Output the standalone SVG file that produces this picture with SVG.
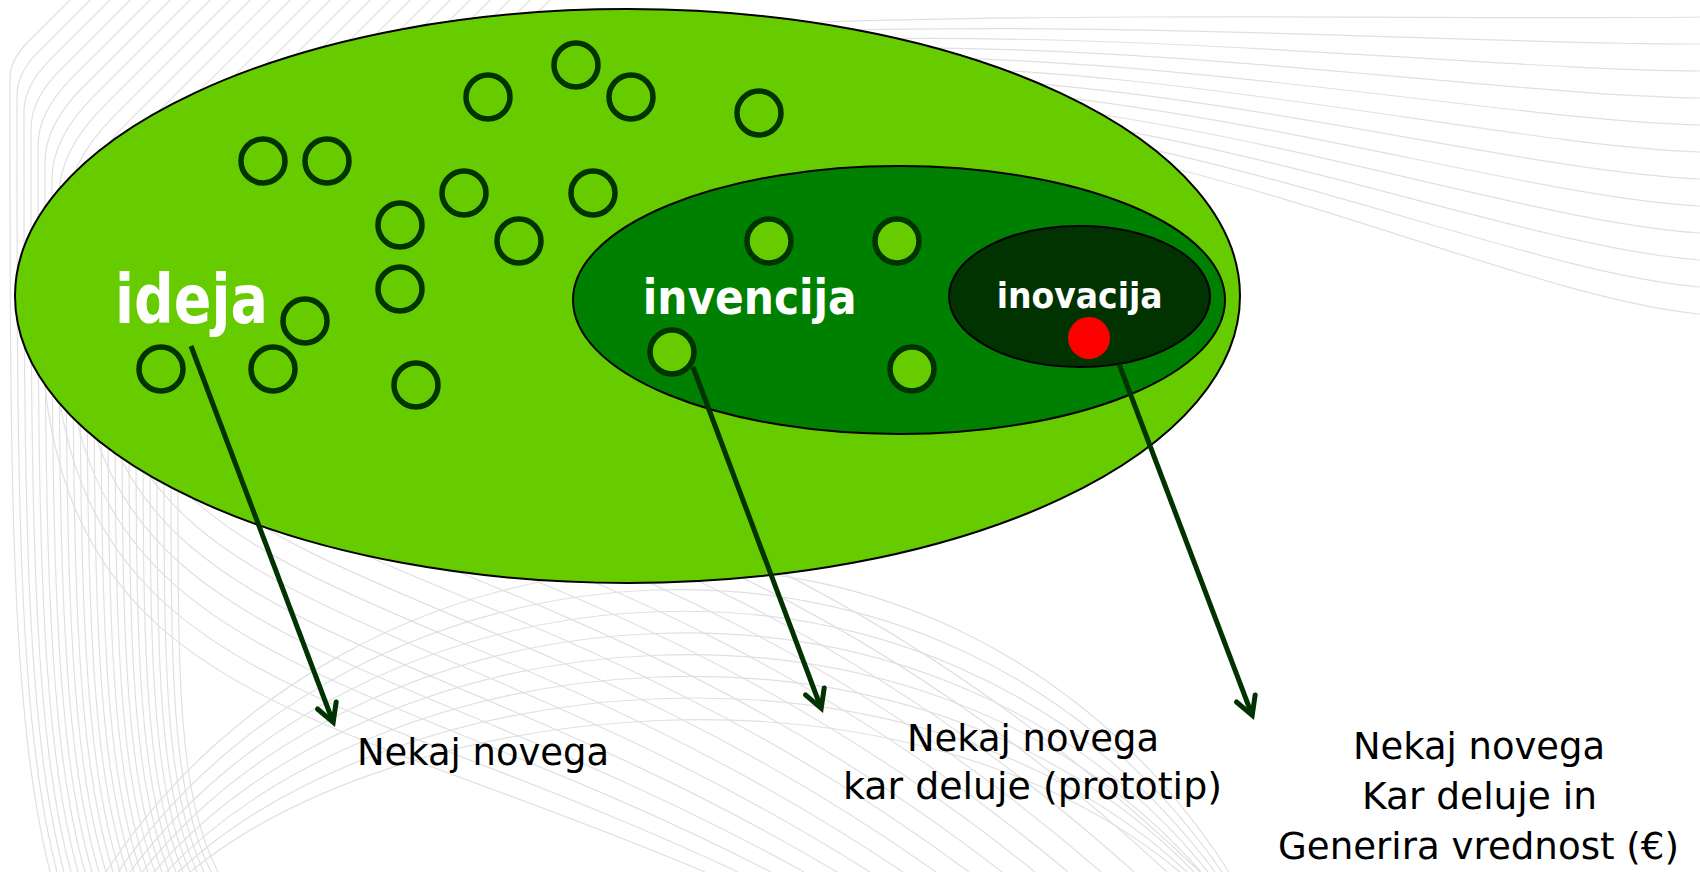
<svg xmlns="http://www.w3.org/2000/svg" width="1700" height="872" viewBox="0 0 1700 872">
<style>
.bg path{fill:none;stroke:#e0e0e0;stroke-width:1.2}
.shell{stroke:#000;stroke-width:2}
.dot{fill:#66CC00;stroke:#003300;stroke-width:5.5}
.conn line{stroke:#003300;stroke-width:5;marker-end:url(#arr)}
.lbl{font-family:"DejaVu Sans",Verdana,sans-serif;font-size:38px;fill:#000}
.big{font-family:"DejaVu Sans",Verdana,sans-serif;font-weight:bold;fill:#fff}
</style>
<defs>
<marker id="arr" markerUnits="userSpaceOnUse" markerWidth="30" markerHeight="30" refX="0" refY="0" orient="auto" overflow="visible">
<path d="M-18,-10 L0,0 L-18,10" fill="none" stroke="#003300" stroke-width="5" stroke-linejoin="miter" stroke-linecap="round"/>
</marker>
</defs>
<rect width="1700" height="872" fill="#fff"/>
<g id="background" class="bg">
<path d="M70,0 L28,42 Q10,60 10,78 C10,475 10,713 50,872"/>
<path d="M90,0 L38.9,51.1 Q17,73 17,94.9 C17,483.5 17,716.6 57,872"/>
<path d="M110,0 L49.8,60.2 Q24,86 24,111.8 C24,491.9 24,720 64,872"/>
<path d="M130,0 L60.7,69.3 Q31,99 31,128.7 C31,500.4 31,723.3 71,872"/>
<path d="M150,0 L71.6,78.4 Q38,112 38,145.6 C38,508.8 38,726.7 78,872"/>
<path d="M170,0 L82.5,87.5 Q45,125 45,162.5 C45,517.3 45,730.1 85,872"/>
<path d="M190,0 L93.4,96.6 Q52,138 52,179.4 C52,525.7 52,733.5 92,872"/>
<path d="M210,0 L104.3,105.7 Q59,151 59,196.3 C59,534.2 59,736.9 99,872"/>
<path d="M230,0 L115.2,114.8 Q66,164 66,213.2 C66,542.6 66,740.2 106,872"/>
<path d="M250,0 L126.1,123.9 Q73,177 73,230.1 C73,551.1 73,743.6 113,872"/>
<path d="M270,0 L137,133 Q80,190 80,247 C80,559.5 80,747 120,872"/>
<path d="M290,0 L147.9,142.1 Q87,203 87,263.9 C87,568 87,750.4 127,872"/>
<path d="M310,0 L158.8,151.2 Q94,216 94,280.8 C94,576.4 94,753.8 134,872"/>
<path d="M330,0 L169.7,160.3 Q101,229 101,297.7 C101,584.9 101,757.1 141,872"/>
<path d="M350,0 L180.6,169.4 Q108,242 108,314.6 C108,593.3 108,760.5 148,872"/>
<path d="M370,0 L191.5,178.5 Q115,255 115,331.5 C115,601.8 115,763.9 155,872"/>
<path d="M390,0 L202.4,187.6 Q122,268 122,348.4 C122,610.2 122,767.3 162,872"/>
<path d="M410,0 L213.3,196.7 Q129,281 129,365.3 C129,618.7 129,770.7 169,872"/>
<path d="M430,0 L224.2,205.8 Q136,294 136,382.2 C136,627.1 136,774 176,872"/>
<path d="M450,0 L235.1,214.9 Q143,307 143,399.1 C143,635.6 143,777.4 183,872"/>
<path d="M470,0 L246,224 Q150,320 150,416 C150,644 150,780.8 190,872"/>
<path d="M490,0 L256.9,233.1 Q157,333 157,432.9 C157,652.5 157,784.2 197,872"/>
<path d="M510,0 L267.8,242.2 Q164,346 164,449.8 C164,660.9 164,787.6 204,872"/>
<path d="M530,0 L278.7,251.3 Q171,359 171,466.7 C171,669.4 171,790.9 211,872"/>
<path d="M550,0 L289.6,260.4 Q178,372 178,483.6 C178,677.8 178,794.3 218,872"/>
<path d="M40,300 C40,700 300,700 705,872"/>
<path d="M52,300 C52,685 325,678 738,872"/>
<path d="M64,300 C64,670 350,656 771,872"/>
<path d="M76,300 C76,655 375,634 804,872"/>
<path d="M88,300 C88,640 400,612 837,872"/>
<path d="M100,300 C100,625 425,590 870,872"/>
<path d="M112,300 C112,610 450,568 903,872"/>
<path d="M124,300 C124,595 475,546 936,872"/>
<path d="M136,300 C136,580 500,524 969,872"/>
<path d="M148,300 C148,565 525,502 1002,872"/>
<path d="M160,300 C160,550 550,480 1035,872"/>
<path d="M172,300 C172,535 575,458 1068,872"/>
<path d="M184,300 C184,520 600,436 1101,872"/>
<path d="M196,300 C196,505 625,414 1134,872"/>
<path d="M208,300 C208,490 650,392 1167,872"/>
<path d="M220,300 C220,475 675,370 1200,872"/>
<path d="M190,872 C400,700 900,640 1180,872"/>
<path d="M178,872 C393,671 907,611 1187,872"/>
<path d="M166,872 C386,642 914,582 1194,872"/>
<path d="M154,872 C379,613 921,553 1201,872"/>
<path d="M142,872 C372,584 928,524 1208,872"/>
<path d="M130,872 C365,555 935,495 1215,872"/>
<path d="M118,872 C358,526 942,466 1222,872"/>
<path d="M106,872 C351,497 949,437 1229,872"/>
<path d="M820,22 C1150,12 1500,20 1700,17"/>
<path d="M820,31 C1150,21 1500,45 1700,44"/>
<path d="M820,40 C1150,30 1500,70 1700,71"/>
<path d="M820,49 C1150,39 1500,95 1700,98"/>
<path d="M820,58 C1150,48 1500,120 1700,125"/>
<path d="M820,67 C1150,57 1500,145 1700,152"/>
<path d="M820,76 C1150,66 1500,170 1700,179"/>
<path d="M820,85 C1150,75 1500,195 1700,206"/>
<path d="M820,94 C1150,84 1500,220 1700,233"/>
<path d="M820,103 C1150,93 1500,245 1700,260"/>
<path d="M820,112 C1150,102 1500,270 1700,287"/>
<path d="M820,121 C1150,111 1500,295 1700,314"/>
</g>
<g id="ideja">
<ellipse class="shell" cx="627.5" cy="296" rx="612.5" ry="287" fill="#66CC00"/>
</g>
<g id="idea-dots">
<circle class="dot" cx="488" cy="97" r="22"/>
<circle class="dot" cx="576" cy="65" r="22"/>
<circle class="dot" cx="631" cy="97" r="22"/>
<circle class="dot" cx="759" cy="113" r="22"/>
<circle class="dot" cx="263" cy="161" r="22"/>
<circle class="dot" cx="327" cy="161" r="22"/>
<circle class="dot" cx="464" cy="193" r="22"/>
<circle class="dot" cx="593" cy="193" r="22"/>
<circle class="dot" cx="400" cy="225" r="22"/>
<circle class="dot" cx="519" cy="241" r="22"/>
<circle class="dot" cx="400" cy="289" r="22"/>
<circle class="dot" cx="305" cy="321" r="22"/>
<circle class="dot" cx="161" cy="369" r="22"/>
<circle class="dot" cx="273" cy="369" r="22"/>
<circle class="dot" cx="416" cy="385" r="22"/>
</g>
<g id="invencija">
<ellipse class="shell" cx="899" cy="300" rx="326" ry="134" fill="#008000"/>
<circle class="dot" cx="769" cy="241" r="22"/>
<circle class="dot" cx="897" cy="241" r="22"/>
<circle class="dot" cx="672" cy="352" r="22"/>
<circle class="dot" cx="912" cy="369" r="22"/>
</g>
<g id="inovacija">
<ellipse class="shell" cx="1079.5" cy="296.5" rx="130.5" ry="70.5" fill="#003300"/>
<circle cx="1089" cy="338" r="21" fill="#FF0000"/>
</g>
<g id="label-ideja"><text class="big" x="115" y="323" font-size="68" textLength="153" lengthAdjust="spacingAndGlyphs">ideja</text></g>
<g id="label-invencija"><text class="big" x="642.7" y="314" font-size="48" textLength="214" lengthAdjust="spacingAndGlyphs">invencija</text></g>
<g id="label-inovacija"><text class="big" x="996.7" y="308.3" font-size="36" textLength="166" lengthAdjust="spacingAndGlyphs">inovacija</text></g>
<g id="connectors" class="conn">
<line x1="191" y1="346" x2="333.2" y2="722.3"/>
<line x1="693" y1="367" x2="821.2" y2="708.3"/>
<line x1="1119" y1="364" x2="1252.2" y2="715.3"/>
</g>
<g id="out-ideja"><text class="lbl" x="357" y="765" textLength="252" lengthAdjust="spacingAndGlyphs">Nekaj novega</text></g>
<g id="out-invencija">
<text class="lbl" x="907" y="751" textLength="252" lengthAdjust="spacingAndGlyphs">Nekaj novega</text>
<text class="lbl" x="843" y="799" textLength="379" lengthAdjust="spacingAndGlyphs">kar deluje (prototip)</text>
</g>
<g id="out-inovacija">
<text class="lbl" x="1353" y="759" textLength="252" lengthAdjust="spacingAndGlyphs">Nekaj novega</text>
<text class="lbl" x="1362" y="809" textLength="235" lengthAdjust="spacingAndGlyphs">Kar deluje in</text>
<text class="lbl" x="1278" y="859" textLength="401" lengthAdjust="spacingAndGlyphs">Generira vrednost (€)</text>
</g>
</svg>
